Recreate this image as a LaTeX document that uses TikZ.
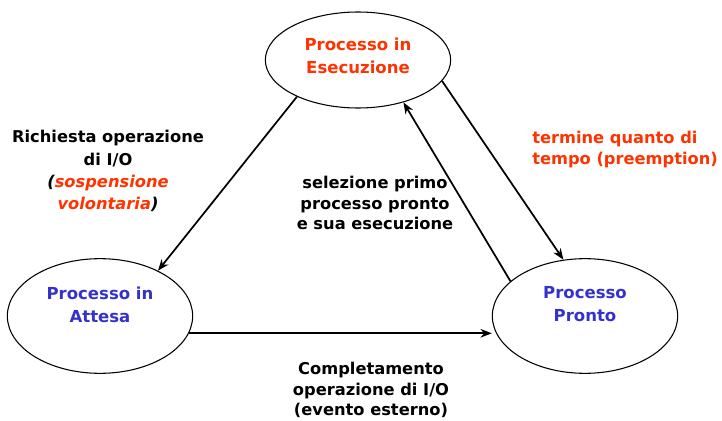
\documentclass[tikz,border=0pt]{standalone}
\usepackage{fontspec}
\setmainfont{DejaVu Sans}
\usepackage{tikz}
\usetikzlibrary{shapes.geometric,arrows.meta,positioning,calc}
\definecolor{statoRosso}{RGB}{255,51,0}
\definecolor{statoBlu}{RGB}{51,51,204}

\begin{document}
\begin{tikzpicture}[x=0.75pt, y=-0.75pt,
  every node/.style={font=\fontsize{12.2}{16}\selectfont\bfseries, inner sep=0pt},
  stato/.style={ellipse, draw, line width=0.8pt, minimum width=139pt, minimum height=86pt},
  transiz/.style={line width=1.3pt, -{Stealth[length=8.5pt, width=6.5pt]}}]
  \useasboundingbox (0,0) rectangle (722,421);
  % Stati
  \node[stato, minimum height=72pt] (esec) at (358,60) {};
  \node[stato] (attesa) at (100,316) {};
  \node[stato] (pronto) at (585,316) {};
  % Nomi degli stati
  \node[anchor=north, align=center, statoRosso, font=\fontsize{12.4}{17.2}\selectfont\bfseries]
    (esecT) at (358,38) {Processo in\\Esecuzione};
  \node[anchor=north, align=center, statoBlu, font=\fontsize{12.4}{17.2}\selectfont\bfseries]
    (attesaT) at (100,287) {Processo in\\Attesa};
  \node[anchor=north, align=center, statoBlu, font=\fontsize{12.4}{17.2}\selectfont\bfseries]
    (prontoT) at (585,286) {Processo\\Pronto};
  % Transizioni
  \draw[transiz] (esec.211) -- (attesa.38);
  \draw[transiz] (pronto.155) -- (esec.317);
  \draw[transiz] (esec.346) -- (pronto.111);
  \draw[transiz] (attesa.349) -- (attesa.349 -| pronto.west);
  % Etichette
  \node[anchor=north, align=center, font=\fontsize{12.2}{16.8}\selectfont\bfseries]
    (richiesta) at (108,130) {Richiesta operazione\\di I/O\\{\itshape(\textcolor{statoRosso}{sospensione}}\\
    {\itshape\textcolor{statoRosso}{volontaria})}};
  \node[anchor=north west, align=left, statoRosso, font=\fontsize{12.2}{16}\selectfont\bfseries]
    (termine) at (532,131) {termine quanto di\\tempo (preemption)};
  \node[anchor=north, align=center, font=\fontsize{12.2}{15.5}\selectfont\bfseries]
    (selezione) at (375,176) {selezione primo\\processo pronto\\e sua esecuzione};
  \node[anchor=north, align=center, font=\fontsize{12.2}{15.5}\selectfont\bfseries]
    (complet) at (371,362) {Completamento\\operazione di I/O\\(evento esterno)};
\end{tikzpicture}
\end{document}
